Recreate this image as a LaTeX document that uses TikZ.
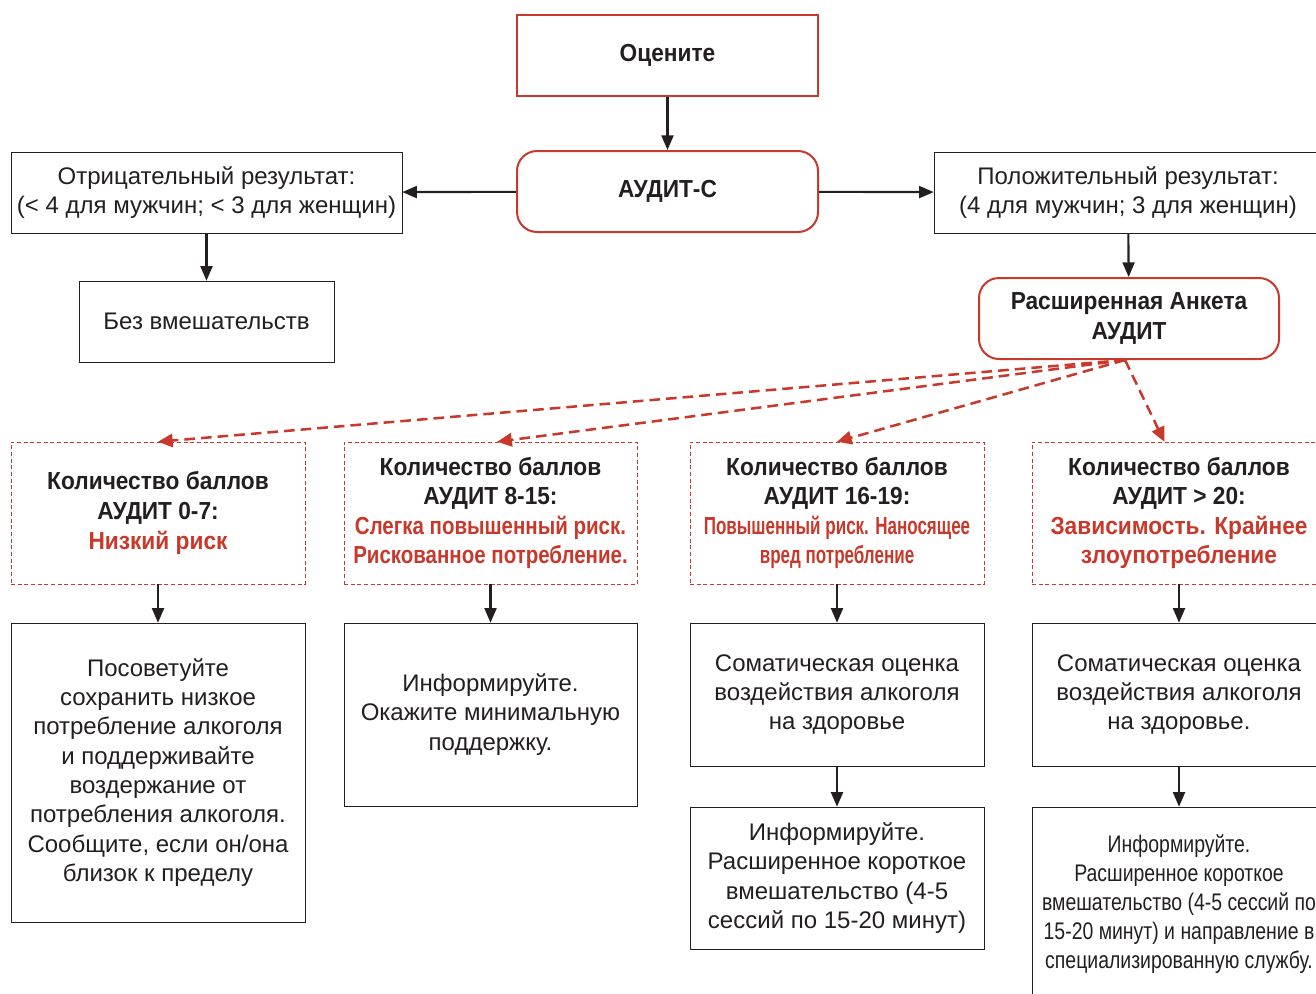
\documentclass[tikz,border=0pt]{standalone}
\usepackage{fontspec}
\setmainfont{Liberation Sans}
\newfontfamily\narrowfont[FakeStretch=0.92]{Liberation Sans}
\newfontfamily\riskfont[FakeStretch=0.83]{Liberation Sans}
\newfontfamily\tightfont[FakeStretch=0.69]{Liberation Sans}
\newfontfamily\longfont[FakeStretch=0.81]{Liberation Sans}
\usetikzlibrary{arrows.meta}
\definecolor{auditred}{HTML}{C8392B}
\definecolor{inkgray}{HTML}{231F20}

\begin{document}
\begin{tikzpicture}[x=0.75pt, y=-0.75pt,
    every node/.style={text=inkgray, align=center, inner sep=2pt},
    plainbox/.style={draw=inkgray, thin, font=\fontsize{18}{22}\selectfont},
    redbox/.style={draw=auditred, line width=1.5pt, font=\narrowfont\bfseries\fontsize{18.5}{22}\selectfont},
    roundbox/.style={redbox, rounded corners=15pt},
    scorebox/.style={draw=auditred, thin, dash pattern=on 3pt off 2pt, font=\narrowfont\bfseries\fontsize{18.5}{22.2}\selectfont},
    arr/.style={draw=inkgray, line width=1.6pt, -{Triangle[length=11pt,width=9pt]}},
    redarr/.style={draw=auditred, line width=1.9pt, dash pattern=on 8pt off 4.5pt, -{Triangle[length=11pt,width=10pt]}}]
  \useasboundingbox (0,0) rectangle (1316,993);
  \clip (0,0) rectangle (1316,993);

  % top of the chart
  \node[redbox, minimum width=301*0.75pt, minimum height=81*0.75pt] (ocen) at (667.5,55.5) {Оцените};
  \node[roundbox, minimum width=301*0.75pt, minimum height=81*0.75pt] (auditc) at (667.5,191.5) {АУДИТ-С};
  \node[plainbox, minimum width=391*0.75pt, minimum height=81*0.75pt] (neg) at (206.5,192.5)
    {Отрицательный результат:\\(< 4 для мужчин; < 3 для женщин)};
  \node[plainbox, minimum width=388*0.75pt, minimum height=81*0.75pt] (pos) at (1128,192.5)
    {Положительный результат:\\(4 для мужчин; 3 для женщин)};
  \node[plainbox, minimum width=255*0.75pt, minimum height=81*0.75pt] (none) at (206.5,321.5) {Без вмешательств};
  \node[roundbox, minimum width=300*0.75pt, minimum height=81*0.75pt] (anketa) at (1129,318.5)
    {Расширенная Анкета\\АУДИТ};

  % score boxes
  \node[scorebox, minimum width=294*0.75pt, minimum height=142*0.75pt] (score1) at (158,513)
    {Количество баллов\\АУДИТ 0-7:\\\textcolor{auditred}{Низкий риск}};
  \node[scorebox, minimum width=293*0.75pt, minimum height=142*0.75pt] (score2) at (490.5,513)
    {Количество баллов\\АУДИТ 8-15:\\\textcolor{auditred}{\riskfont Слегка повышенный риск.}\\\textcolor{auditred}{\riskfont Рискованное потребление.}};
  \node[scorebox, minimum width=294*0.75pt, minimum height=142*0.75pt] (score3) at (837,513)
    {Количество баллов\\АУДИТ 16-19:\\\textcolor{auditred}{\tightfont Повышенный риск. Наносящее}\\\textcolor{auditred}{\tightfont вред потребление}};
  \node[scorebox, minimum width=294*0.75pt, minimum height=142*0.75pt] (score4) at (1179,513)
    {Количество баллов\\АУДИТ > 20:\\\textcolor{auditred}{Зависимость. Крайнее}\\\textcolor{auditred}{злоупотребление}};

  % actions
  \node[plainbox, minimum width=294*0.75pt, minimum height=299*0.75pt] (act1) at (158,772.5)
    {Посоветуйте\\сохранить низкое\\потребление алкоголя\\и поддерживайте\\воздержание от\\потребления алкоголя.\\Сообщите, если он/она\\близок к пределу};
  \node[plainbox, minimum width=293*0.75pt, minimum height=183*0.75pt] (act2) at (490.5,714.5)
    {Информируйте.\\Окажите минимальную\\поддержку.};
  \node[plainbox, minimum width=294*0.75pt, minimum height=143*0.75pt] (act3) at (837,694.5)
    {Соматическая оценка\\воздействия алкоголя\\на здоровье};
  \node[plainbox, minimum width=294*0.75pt, minimum height=143*0.75pt] (act4) at (1179,694.5)
    {Соматическая оценка\\воздействия алкоголя\\на здоровье.};
  \node[plainbox, minimum width=294*0.75pt, minimum height=142*0.75pt] (brief3) at (837,878)
    {Информируйте.\\Расширенное короткое\\вмешательство (4-5\\сессий по 15-20 минут)};
  \node[plainbox, font=\longfont\fontsize{18}{21.9}\selectfont, minimum width=294*0.75pt, minimum height=194*0.75pt] (brief4) at (1179,904)
    {Информируйте.\\Расширенное короткое\\вмешательство (4-5 сессий по\\15-20 минут) и направление в\\специализированную службу.};

  % connectors
  \draw[arr] (ocen) -- (auditc);
  \draw[arr] (auditc) -- (neg);
  \draw[arr] (auditc) -- (pos);
  \draw[arr] (neg) -- (none);
  \draw[arr] (pos) -- (anketa);
  \draw[redarr] ([xshift=-3pt]anketa.south) -- (score1.north);
  \draw[redarr] ([xshift=-3pt]anketa.south) -- ([xshift=5pt]score2.north);
  \draw[redarr] ([xshift=-3pt]anketa.south) -- (score3.north);
  \draw[redarr] ([xshift=-3pt]anketa.south) -- ([xshift=-11pt]score4.north);
  \draw[arr] (score1) -- (act1);
  \draw[arr] (score2) -- (act2);
  \draw[arr] (score3) -- (act3);
  \draw[arr] (score4) -- (act4);
  \draw[arr] (act3) -- (brief3);
  \draw[arr] (act4) -- (brief4);
\end{tikzpicture}
\end{document}
